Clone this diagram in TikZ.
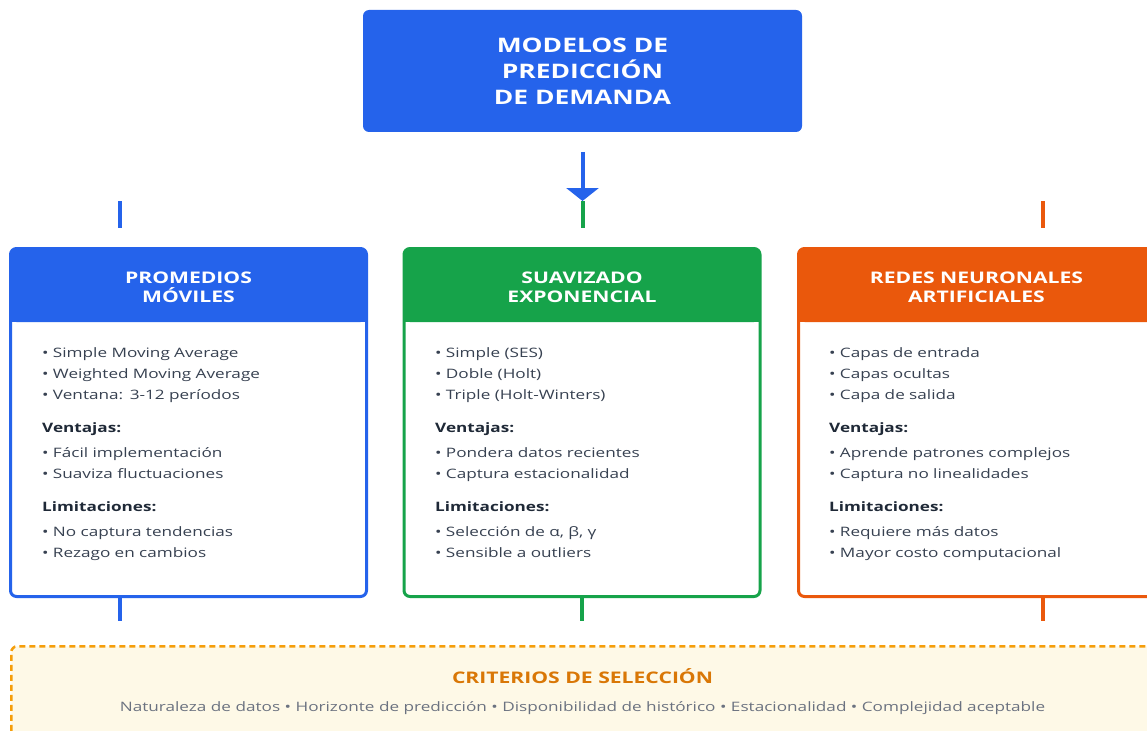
\documentclass[tikz,border=0pt]{standalone}
\usepackage{fontspec}
\setmainfont{Open Sans}[FakeStretch=1.32]
\usetikzlibrary{arrows.meta}
\definecolor{cblue}{HTML}{2563EB}
\definecolor{cgreen}{HTML}{16A34A}
\definecolor{corange}{HTML}{EA580C}
\definecolor{camber}{HTML}{F59E0B}
\definecolor{camberdark}{HTML}{D97706}
\definecolor{ccream}{HTML}{FEF9E7}
\definecolor{ctext}{HTML}{374151}
\definecolor{cdark}{HTML}{1F2937}
\definecolor{cgray}{HTML}{6B7280}
\tikzset{
  topbox/.style={fill=cblue, rounded corners=6pt, minimum width=439pt, minimum height=122pt,
    text=white, font=\fontsize{20}{26}\selectfont\bfseries, align=center},
  panelbox/.style={draw=#1, line width=3pt, fill=white, rounded corners=6pt, outer sep=0pt,
    minimum width=356pt, minimum height=348pt},
  headtext/.style={text=white, font=\fontsize{16}{19}\selectfont\bfseries, align=center},
  bodytext/.style={text=ctext, font=\fontsize{13}{21}\selectfont, align=left, text width=320pt,
    anchor=base west, inner sep=0pt},
  stub/.style={draw=#1, line width=4pt},
  critbox/.style={draw=camber, fill=ccream, line width=2.5pt, dash pattern=on 6pt off 4pt,
    rounded corners=6pt, minimum width=1150pt, minimum height=104pt},
  crittitle/.style={text=camberdark, font=\fontsize{16}{19}\selectfont\bfseries},
  crittext/.style={text=cgray, font=\fontsize{13}{16}\selectfont},
}
\newcommand\lbl[1]{{\color{cdark}\bfseries #1}}
\newcommand\bodylist[7]{%
  •~#1\\•~#2\\•~#3\\[12pt]\lbl{Ventajas:}\\[4pt]•~#4\\•~#5\\[12pt]\lbl{Limitaciones:}\\[4pt]•~#6\\•~#7}
\newcommand\mkpanel[4]{% name, center x, colour, title
  \node[panelbox=#3] (#1) at (#2,422.5) {};
  \fill[#3, rounded corners=6pt] (#1.north west) rectangle (#1.east |- 0,322);
  \fill[#3] (#1.west |- 0,305) rectangle (#1.east |- 0,322);
  \node[headtext] (#1h) at (#2,287) {#4};
}
\begin{document}
\begin{tikzpicture}[x=1pt,y=-1pt]
\useasboundingbox (0,0) rectangle (1147,730);
\clip (0,0) rectangle (1147,730);

% top box
\node[topbox] (top) at (582.5,71) {MODELOS DE\\PREDICCIÓN\\DE DEMANDA};

% connector coordinates
\coordinate (a1) at (582.5,152);
\coordinate (a2) at (582.5,201);
\coordinate (a3) at (582.5,228);
\coordinate (l1) at (120,201);
\coordinate (l2) at (120,228);
\coordinate (r1) at (1043,201);
\coordinate (r2) at (1043,228);

\draw[stub=cgreen] (a2) -- (a3);
\draw[stub=cblue, -{Triangle[width=32pt,length=13pt]}] (a1) -- (a2);
\draw[stub=cblue] (l1) -- (l2);
\draw[stub=corange] (r1) -- (r2);

% panels
\mkpanel{p1}{188.5}{cblue}{PROMEDIOS\\MÓVILES}
\mkpanel{p2}{582}{cgreen}{SUAVIZADO\\EXPONENCIAL}
\mkpanel{p3}{976.5}{corange}{REDES NEURONALES\\ARTIFICIALES}

\node[bodytext] (p1b) at (42,357) {\bodylist{Simple Moving Average}{Weighted Moving Average}{Ventana: 3-12 períodos}{Fácil implementación}{Suaviza fluctuaciones}{No captura tendencias}{Rezago en cambios}};
\node[bodytext] (p2b) at (435,357) {\bodylist{Simple (SES)}{Doble (Holt)}{Triple (Holt-Winters)}{Pondera datos recientes}{Captura estacionalidad}{Selección de α, β, γ}{Sensible a outliers}};
\node[bodytext] (p3b) at (829,357) {\bodylist{Capas de entrada}{Capas ocultas}{Capa de salida}{Aprende patrones complejos}{Captura no linealidades}{Requiere más datos}{Mayor costo computacional}};

% bottom stubs
\coordinate (b1) at (120,621);
\coordinate (b2) at (582,621);
\coordinate (b3) at (1043,621);
\draw[stub=cblue] (p1.south -| b1) -- (b1);
\draw[stub=cgreen] (p2.south -| b2) -- (b2);
\draw[stub=corange] (p3.south -| b3) -- (b3);

% criteria box
\node[critbox] (crit) at (586.25,698.25) {};
\node[crittitle] (critt) at (582.5,676) {CRITERIOS DE SELECCIÓN};
\node[crittext] (critx) at (582.5,708.5) {Naturaleza de datos • Horizonte de predicción • Disponibilidad de histórico • Estacionalidad • Complejidad aceptable};
\end{tikzpicture}
\end{document}
